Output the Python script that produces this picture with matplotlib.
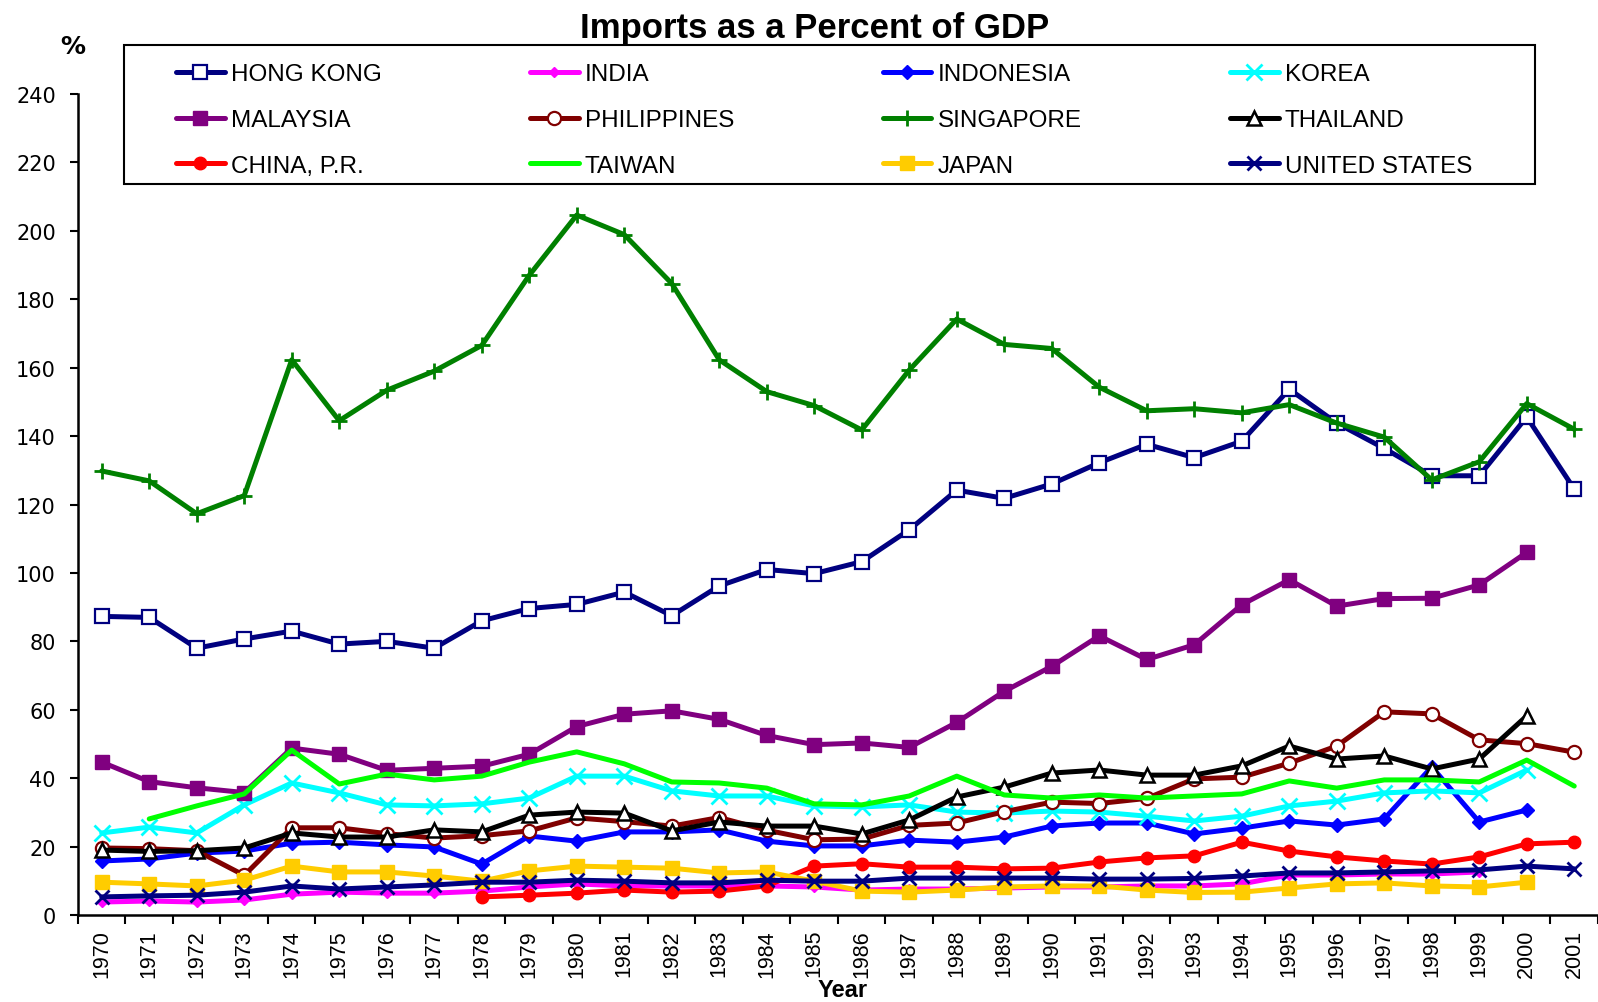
import numpy as np
import matplotlib
matplotlib.use("Agg")
import matplotlib.pyplot as plt
from matplotlib.patches import Rectangle

plt.rcParams['font.family'] = ['Liberation Sans', 'DejaVu Sans']

nan = np.nan
years = list(range(1970, 2002))

hong_kong = [87.3, 87.0, 78.0, 80.7, 83.0, 79.2, 80.0, 78.0, 86.0, 89.6, 90.8, 94.4, 87.5, 96.2, 101.0, 99.8,
             103.3, 112.6, 124.2, 121.8, 126.0, 132.2, 137.6, 133.7, 138.5, 153.7, 143.8, 136.4, 128.4, 128.4, 145.6, 124.5]
india = [3.8, 4.1, 3.8, 4.4, 6.1, 6.7, 6.4, 6.4, 7.0, 8.2, 9.1, 8.5, 8.5, 8.5, 8.5, 8.2,
         7.3, 7.6, 7.6, 7.9, 8.2, 8.2, 8.5, 8.5, 9.1, 11.7, 11.7, 12.0, 12.0, 12.6, nan, nan]
indonesia = [15.8, 16.4, 18.1, 18.7, 21.0, 21.3, 20.5, 19.9, 14.9, 23.1, 21.6, 24.3, 24.3, 24.9, 21.6, 20.2,
             20.2, 21.9, 21.3, 22.8, 26.0, 26.9, 26.9, 23.7, 25.4, 27.5, 26.3, 28.1, 43.3, 27.2, 30.7, nan]
korea = [24.0, 25.7, 24.0, 32.2, 38.6, 35.7, 32.2, 31.9, 32.5, 34.2, 40.6, 40.6, 36.3, 34.8, 34.8, 31.9,
         31.6, 32.2, 30.1, 29.8, 30.4, 30.1, 28.9, 27.5, 28.9, 31.9, 33.3, 35.7, 36.3, 35.7, 42.4, nan]
malaysia = [44.7, 39.0, 37.2, 35.8, 48.8, 47.0, 42.3, 42.9, 43.5, 47.0, 55.1, 58.7, 59.7, 57.2, 52.5, 49.8,
            50.3, 49.0, 56.3, 65.4, 72.7, 81.6, 74.7, 79.0, 90.7, 98.0, 90.3, 92.5, 92.6, 96.5, 106.0, nan]
philippines = [19.6, 19.4, 18.8, 11.6, 25.5, 25.5, 23.8, 22.5, 23.2, 24.6, 28.4, 27.3, 26.0, 28.5, 24.8, 22.0,
               22.2, 26.2, 26.9, 30.2, 33.0, 32.6, 34.1, 39.8, 40.3, 44.4, 49.4, 59.4, 58.8, 51.2, 50.1, 47.6]
singapore = [129.8, 126.9, 117.3, 122.6, 162.3, 144.5, 153.4, 159.0, 166.5, 187.0, 204.6, 198.9, 184.6, 162.3, 153.0, 148.9,
             141.8, 159.3, 174.2, 166.8, 165.6, 154.3, 147.4, 148.0, 146.8, 149.2, 143.8, 139.7, 127.2, 132.5, 149.5, 142.0]
thailand = [19.0, 18.6, 18.8, 19.6, 24.0, 22.8, 22.8, 24.9, 24.3, 29.2, 30.1, 29.8, 24.6, 27.2, 26.0, 26.0,
            23.7, 27.8, 34.5, 37.4, 41.5, 42.4, 40.9, 40.9, 43.6, 49.4, 45.6, 46.5, 42.7, 45.6, 58.2, nan]
china = [nan, nan, nan, nan, nan, nan, nan, nan, 5.3, 5.8, 6.4, 7.3, 6.7, 7.0, 8.5, 14.3,
         15.0, 14.0, 14.0, 13.5, 13.7, 15.5, 16.7, 17.3, 21.3, 18.7, 17.0, 15.8, 14.9, 17.0, 20.8, 21.3]
taiwan = [nan, 28.1, 31.9, 35.4, 48.2, 38.3, 41.2, 39.5, 40.6, 44.7, 47.7, 44.2, 38.9, 38.6, 37.1, 32.5,
          32.2, 34.8, 40.6, 35.1, 34.2, 35.1, 34.2, 34.8, 35.4, 39.2, 37.1, 39.5, 39.5, 38.9, 45.3, 37.7]
japan = [9.6, 9.1, 8.5, 10.2, 14.3, 12.6, 12.6, 11.4, 9.9, 12.9, 14.3, 14.0, 13.7, 12.3, 12.6, 9.9,
         7.0, 6.7, 7.3, 8.2, 8.5, 8.5, 7.3, 6.6, 6.7, 7.9, 9.1, 9.4, 8.5, 8.2, 9.6, nan]
united_states = [5.3, 5.6, 5.8, 6.7, 8.5, 7.6, 8.2, 8.8, 9.6, 9.6, 10.2, 9.9, 9.4, 9.4, 10.2, 9.9,
                 9.9, 10.8, 10.8, 10.8, 10.8, 10.5, 10.5, 10.7, 11.4, 12.3, 12.3, 12.6, 12.9, 13.2, 14.3, 13.5]

y_ticks = list(range(0, 241, 20))

fig = plt.figure(figsize=(15.98, 10.03), dpi=100)
ax = fig.add_axes([0.0488, 0.0867, 0.9512, 0.8186])

lw = 3.6
series = [
    ("HONG KONG", hong_kong, dict(color="#000080", marker="s", ms=10.5, mfc="white", mec="#000080", mew=1.6)),
    ("INDIA", india, dict(color="#FF00FF", marker="D", ms=5, mfc="#FF00FF", mec="#FF00FF")),
    ("INDONESIA", indonesia, dict(color="#0000FF", marker="D", ms=7, mfc="#0000FF", mec="#0000FF")),
    ("KOREA", korea, dict(color="#00FFFF", marker="x", ms=11, mew=2)),
    ("MALAYSIA", malaysia, dict(color="#800080", marker="s", ms=10, mfc="#800080", mec="#800080")),
    ("PHILIPPINES", philippines, dict(color="#800000", marker="o", ms=9.5, mfc="white", mec="#800000", mew=1.6)),
    ("SINGAPORE", singapore, dict(color="#008000", marker="+", ms=12, mew=2)),
    ("THAILAND", thailand, dict(color="black", marker="^", ms=10.5, mfc="white", mec="black", mew=1.8)),
    ("CHINA, P.R.", china, dict(color="#FF0000", marker="o", ms=9, mfc="#FF0000", mec="#FF0000")),
    ("TAIWAN", taiwan, dict(color="#00FF00")),
    ("JAPAN", japan, dict(color="#FFCC00", marker="s", ms=10, mfc="#FFCC00", mec="#FFCC00")),
    ("UNITED STATES", united_states, dict(color="#000080", marker="x", ms=10, mew=2)),
]

handles = {}
for name, vals, style in series:
    h, = ax.plot(years, vals, lw=lw, label=name, solid_capstyle="round", **style)
    handles[name] = h

ax.set_xlim(1969.5, 2001.23)
ax.set_ylim(0, 240)
ax.set_yticks(y_ticks)
ax.set_yticklabels([str(v) for v in y_ticks], fontfamily="DejaVu Sans", fontsize=15)

ax.set_xticks(np.arange(1969.5, 2001.6, 1.0))
ax.set_xticklabels([])
ax.set_xticks(years, minor=True)
ax.set_xticklabels([str(y) for y in years], minor=True, rotation=90, fontsize=15.5)
ax.tick_params(axis="x", which="major", direction="out", length=6.5, width=1.5)
ax.tick_params(axis="x", which="minor", length=0, pad=10)
ax.tick_params(axis="y", direction="out", length=6, width=1.5, pad=10)

for s in ("top", "right"):
    ax.spines[s].set_visible(False)
for s in ("left", "bottom"):
    ax.spines[s].set_linewidth(1.8)

# legend laid out row-wise like the original (4 columns)
order = ["HONG KONG", "MALAYSIA", "CHINA, P.R.",
         "INDIA", "PHILIPPINES", "TAIWAN",
         "INDONESIA", "SINGAPORE", "JAPAN",
         "KOREA", "THAILAND", "UNITED STATES"]
fig.legend([handles[n] for n in order], order, ncol=4, mode="expand",
           loc="upper left", bbox_to_anchor=(0.1101, 0.70, 0.8111, 0.236),
           bbox_transform=fig.transFigure, frameon=False, borderpad=0, borderaxespad=0,
           fontsize=17.5, handlelength=2.0, handletextpad=0.25, labelspacing=0.98)
fig.add_artist(Rectangle((0.0776, 0.8156), 0.883, 0.1386, transform=fig.transFigure,
                         fill=False, edgecolor="black", linewidth=1.5))

fig.text(0.51, 0.972, "Imports as a Percent of GDP", ha="center", va="center",
         fontsize=25, fontweight="bold")
fig.text(0.0457, 0.953, "%", ha="center", va="center", fontsize=18, fontweight="bold",
         fontfamily="DejaVu Sans")
fig.text(0.5275, 0.012, "Year", ha="center", va="center", fontsize=17, fontweight="bold")

fig.savefig("out.png", dpi=100)
